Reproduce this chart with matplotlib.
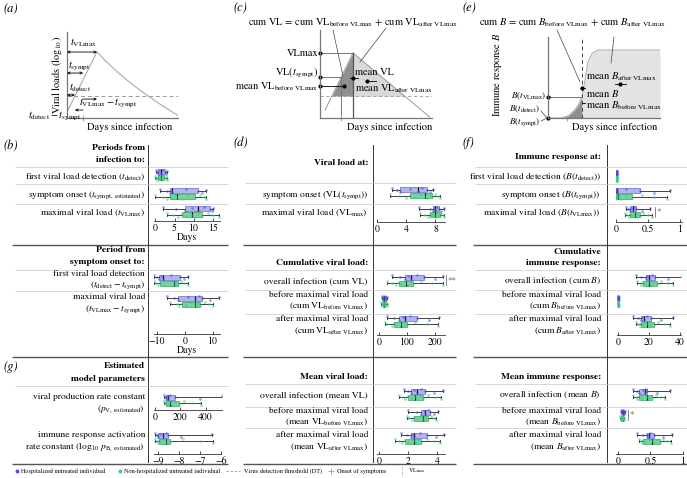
import numpy as np
import matplotlib
matplotlib.use('Agg')
import matplotlib.pyplot as plt

plt.rcParams['font.family'] = ['STIXGeneral', 'Liberation Serif', 'DejaVu Serif']
plt.rcParams['mathtext.fontset'] = 'stix'
plt.rcParams['font.size'] = 6.8

# ---------------- data ----------------
# periods from infection (days); H = hospitalized, N = non-hospitalized
t_detect_H = [0.2, 0.5, 0.8, 1.1, 1.5, 2.0, 2.5, 2.8, 3.0]
t_detect_N = [0.0, 0.3, 0.5, 0.7, 1.0, 1.2, 1.5, 1.8, 2.1, 2.4, 2.7, 3.0, 3.2]
t_sympt_H = [1.3, 3.0, 3.8, 4.1, 4.4, 8.0, 11.0, 12.0, 13.0]
t_sympt_N = [0.0, 2.0, 3.0, 3.8, 4.5, 5.0, 5.6, 7.0, 8.5, 10.3, 11.5, 12.5, 13.0]
t_vlmax_H = [2.0, 5.5, 7.7, 9.5, 11.0, 12.5, 14.1, 14.6, 14.9]
t_vlmax_N = [3.0, 4.5, 6.0, 7.0, 8.0, 9.0, 9.5, 10.2, 11.0, 12.0, 13.5, 15.0, 16.5]
# periods from symptom onset (days)
detect_sympt_H = [-11.0, -10.0, -9.3, -8.5, -7.9, -5.0, -1.8, -0.5, 1.0]
detect_sympt_N = [-11.0, -10.5, -9.8, -9.0, -7.5, -6.0, -4.0, -3.5, -3.0, -2.5, -1.5, -0.3, 1.0]
vlmax_sympt_H = [-6.5, -4.0, -2.5, 1.0, 3.6, 5.0, 6.0, 9.0, 12.0]
vlmax_sympt_N = [-5.4, -3.0, -2.0, -1.0, 0.5, 2.0, 3.6, 4.0, 4.8, 5.4, 7.0, 8.5, 10.0]
# estimated model parameters
p_v_H = [75, 85, 90, 98, 105, 120, 155, 355, 530]
p_v_N = [70, 78, 84, 90, 100, 110, 120, 135, 160, 190, 230, 290, 360]
log_p_b_H = [-9.15, -9.05, -9.0, -8.9, -8.75, -8.6, -8.5, -7.9, -6.45]
log_p_b_N = [-9.15, -9.05, -9.0, -8.95, -8.85, -8.7, -8.6, -8.55, -8.5, -8.45, -7.8, -7.0, -6.4]
# viral load at
vl_sympt_H = [2.0, 2.8, 3.2, 4.5, 5.6, 6.2, 6.8, 7.2, 7.6]
vl_sympt_N = [1.8, 3.0, 4.0, 4.5, 5.2, 6.0, 6.6, 6.9, 7.2, 7.5, 7.9, 8.3, 8.6]
vl_max_H = [5.8, 7.2, 7.6, 7.8, 8.0, 8.2, 8.5, 8.8, 9.1]
vl_max_N = [5.9, 6.5, 7.0, 7.3, 7.5, 7.7, 7.9, 8.1, 8.4, 8.6, 8.8, 9.0, 9.2]
# cumulative viral load
cum_vl_H = [45, 75, 92, 105, 115, 135, 160, 200, 230]
cum_vl_N = [30, 45, 60, 70, 80, 88, 95, 102, 110, 120, 150, 190, 230]
cum_vl_before_H = [10, 12, 14, 16, 18, 20, 24, 26, 28]
cum_vl_before_N = [8, 10, 12, 13, 14, 15, 17, 18, 20, 22, 25, 28, 30]
cum_vl_after_H = [28, 55, 72, 85, 93, 110, 136, 180, 215]
cum_vl_after_N = [20, 30, 45, 55, 62, 70, 80, 87, 94, 100, 130, 170, 212]
# mean viral load
mean_vl_H = [1.7, 2.0, 2.2, 2.4, 2.6, 2.9, 3.2, 3.8, 4.4]
mean_vl_N = [1.4, 1.6, 1.8, 2.0, 2.2, 2.35, 2.5, 2.65, 2.8, 3.0, 3.4, 3.9, 4.3]
mean_vl_before_H = [2.0, 2.6, 2.9, 3.1, 3.2, 3.35, 3.5, 3.8, 4.1]
mean_vl_before_N = [1.9, 2.1, 2.3, 2.4, 2.6, 2.8, 3.0, 3.1, 3.25, 3.4, 3.55, 3.7, 3.9]
mean_vl_after_H = [1.5, 1.9, 2.2, 2.3, 2.4, 2.8, 3.3, 3.9, 4.5]
mean_vl_after_N = [1.1, 1.4, 1.6, 1.8, 2.0, 2.2, 2.4, 2.55, 2.7, 2.9, 3.3, 3.8, 4.2]
# immune response at
b_detect_H = [0.0, 0.003, 0.005, 0.008, 0.01, 0.012, 0.015, 0.018, 0.02]
b_detect_N = [0.0, 0.002, 0.004, 0.005, 0.007, 0.009, 0.01, 0.011, 0.013, 0.015, 0.017, 0.019, 0.022]
b_sympt_H = [0.0, 0.002, 0.005, 0.01, 0.02, 0.15, 0.37, 0.6, 0.84]
b_sympt_N = [0.0, 0.001, 0.003, 0.005, 0.01, 0.02, 0.03, 0.08, 0.15, 0.25, 0.4, 0.6, 0.8]
b_vlmax_H = [0.15, 0.19, 0.22, 0.24, 0.26, 0.28, 0.31, 0.4, 0.53]
b_vlmax_N = [0.14, 0.17, 0.2, 0.22, 0.25, 0.28, 0.3, 0.32, 0.35, 0.37, 0.42, 0.5, 0.56]
# cumulative immune response
cum_b_H = [11.5, 15, 17.8, 19, 19.7, 22, 24, 32, 41]
cum_b_N = [12.5, 14, 15, 16, 17.5, 19, 20, 21.5, 23, 25, 28, 32, 35.5]
cum_b_before_H = [0.0, 0.05, 0.1, 0.15, 0.2, 0.25, 0.3, 0.4, 0.5]
cum_b_before_N = [0.0, 0.04, 0.08, 0.1, 0.14, 0.17, 0.2, 0.23, 0.27, 0.3, 0.35, 0.42, 0.5]
cum_b_after_H = [10, 13, 14.6, 15.5, 16.6, 18.5, 21, 28, 35.5]
cum_b_after_N = [11.5, 13, 14, 14.6, 16, 17.5, 19, 20, 21.5, 23, 26, 30, 33.5]
# mean immune response
mean_b_H = [0.23, 0.29, 0.33, 0.38, 0.41, 0.43, 0.45, 0.6, 0.8]
mean_b_N = [0.23, 0.27, 0.3, 0.33, 0.36, 0.4, 0.44, 0.47, 0.5, 0.53, 0.58, 0.65, 0.72]
mean_b_before_H = [0.04, 0.05, 0.06, 0.065, 0.07, 0.08, 0.09, 0.1, 0.11]
mean_b_before_N = [0.03, 0.04, 0.045, 0.05, 0.055, 0.06, 0.07, 0.072, 0.075, 0.08, 0.085, 0.09, 0.1]
mean_b_after_H = [0.3, 0.38, 0.44, 0.45, 0.47, 0.5, 0.56, 0.7, 0.83]
mean_b_after_N = [0.33, 0.35, 0.37, 0.38, 0.42, 0.47, 0.52, 0.56, 0.6, 0.64, 0.7, 0.76, 0.82]

# schematic curves (days, log10 VL / immune response)
sch_a_days = [0, 5.4, 7, 9, 11, 13, 15, 17, 20]
sch_a_vl = [0.7, 7.7, 6.6, 5.4, 4.3, 3.3, 2.4, 1.5, 0.3]
sch_a_dt = 2.56
sch_a_tdetect, sch_a_tsympt, sch_a_tvlmax = 1.43, 2.9, 5.4
sch_c_days = [0.9, 5.9, 19.6]
sch_c_vl = [0.9, 7.4, 0.1]
sch_c_dt = 2.5
sch_c_tsympt, sch_c_vlsympt = 3.8, 4.67
sch_c_mean, sch_c_mean_before, sch_c_mean_after = 4.5, 3.6, 4.2
sch_e_days = [0, 2.1, 3.6, 4.6, 5.4, 6.07, 6.6, 7.1, 7.9, 8.9, 20]
sch_e_b = [0, 0, 0.025, 0.086, 0.16, 0.26, 0.47, 0.69, 0.80, 0.84, 0.84]
sch_e_tvlmax, sch_e_tsympt = 6.07, 3.4
sch_e_mean, sch_e_mean_before, sch_e_mean_after = 0.37, 0.185, 0.42

# ---------------- layout helpers (pixels) ----------------
W, H = 687, 478
fig = plt.figure(figsize=(W / 100, H / 100), dpi=100)

def rect(x0, x1, y0, y1):
    return [x0 / W, 1 - y1 / H, (x1 - x0) / W, (y1 - y0) / H]

ax0 = fig.add_axes([0, 0, 1, 1])
ax0.set_xlim(0, W)
ax0.set_ylim(H, 0)
ax0.axis('off')
ax0.set_zorder(10)

blue = '#5050d8'
blue_box = '#a6a6ea'
green = '#3ad07f'
green_box = '#5ccf8a'

def txt(x, y, s, ha='right', **kw):
    ax0.text(x, y, s, ha=ha, va='center', **kw)

def hline(y, x0, x1, lw=0.5, color='#c8c8c8'):
    ax0.plot([x0, x1], [y, y], color=color, lw=lw, solid_capstyle='butt')

# ---------------- table grid ----------------
cols = [(12, 228, 148), (243, 456, 373), (473, 687, 607)]
for x0, x1, xv in cols:
    for y in (245, 357, 464):
        hline(y, x0, x1, lw=1.0, color='#555555')
    ax0.plot([xv, xv], [145, 462], color='#333333', lw=0.7)
for y in (167, 184, 204, 270, 291, 386):
    hline(y, 15, 228)
for y in (183, 204, 270, 290, 314, 384, 407, 428):
    hline(y, 245, 456)
for y in (167, 184, 204, 270, 290, 314, 384, 407, 428):
    hline(y, 475, 687)

# ---------------- row labels ----------------
bold = dict(fontweight='bold')
labels = [
    (145, 148, 'Periods from', bold), (145, 160, 'infection to:', bold),
    (145, 177, r'first viral load detection ($t_{\mathrm{detect}}$)', {}),
    (145, 195, r'symptom onset ($t_{\mathrm{sympt},\ \mathrm{estimated}}$)', {}),
    (145, 213, r'maximal viral load ($t_{\mathrm{VLmax}}$)', {}),
    (145, 250, 'Period from', bold), (145, 262, 'symptom onset to:', bold),
    (145, 274, 'first viral load detection', {}),
    (145, 285, r'($t_{\mathrm{detect}}-t_{\mathrm{sympt}}$)', {}),
    (145, 297, 'maximal viral load', {}),
    (145, 309, r'($t_{\mathrm{VLmax}}-t_{\mathrm{sympt}}$)', {}),
    (145, 366, 'Estimated', bold), (145, 379, 'model parameters', bold),
    (145, 397, 'viral production rate constant', {}),
    (145, 409, r'($p_{\mathrm{V},\ \mathrm{estimated}}$)', {}),
    (145, 435, 'immune response activation', {}),
    (145, 447, r'rate constant (log$_{10}\ p_{\mathrm{B},\ \mathrm{estimated}}$)', {}),
    (368, 163, 'Viral load at:', bold),
    (368, 195, r'symptom onset (VL($t_{\mathrm{sympt}}$))', {}),
    (368, 213, r'maximal viral load (VL$_{\mathrm{max}}$)', {}),
    (368, 263, 'Cumulative viral load:', bold),
    (368, 281, 'overall infection (cum VL)', {}),
    (368, 295, 'before maximal viral load', {}),
    (368, 306, r'(cum VL$_{\mathrm{before\ VLmax}}$)', {}),
    (368, 319, 'after maximal viral load', {}),
    (368, 331, r'(cum VL$_{\mathrm{after\ VLmax}}$)', {}),
    (368, 377, 'Mean viral load:', bold),
    (368, 395, 'overall infection (mean VL)', {}),
    (368, 411, 'before maximal viral load', {}),
    (368, 422, r'(mean VL$_{\mathrm{before\ VLmax}}$)', {}),
    (368, 435, 'after maximal viral load', {}),
    (368, 447, r'(mean VL$_{\mathrm{after\ VLmax}}$)', {}),
    (601, 157, 'Immune response at:', bold),
    (601, 177, r'first viral load detection ($B$($t_{\mathrm{detect}}$))', {}),
    (601, 195, r'symptom onset ($B$($t_{\mathrm{sympt}}$))', {}),
    (601, 213, r'maximal viral load ($B$($t_{\mathrm{VLmax}}$))', {}),
    (601, 252, 'Cumulative', bold), (601, 263, 'immune response:', bold),
    (601, 281, r'overall infection (cum $B$)', {}),
    (601, 295, 'before maximal viral load', {}),
    (601, 306, r'(cum $B_{\mathrm{before\ VLmax}}$)', {}),
    (601, 319, 'after maximal viral load', {}),
    (601, 331, r'(cum $B_{\mathrm{after\ VLmax}}$)', {}),
    (601, 377, 'Mean immune response:', bold),
    (601, 395, r'overall infection (mean $B$)', {}),
    (601, 411, 'before maximal viral load', {}),
    (601, 422, r'(mean $B_{\mathrm{before\ VLmax}}$)', {}),
    (601, 435, 'after maximal viral load', {}),
    (601, 447, r'(mean $B_{\mathrm{after\ VLmax}}$)', {}),
]
for x, y, s, kw in labels:
    txt(x, y, s, **kw)

# ---------------- box + strip blocks ----------------
blocks = [
    dict(px=(154, 220, 167, 221), xlim=(-0.26, 16.67), ticks=[0, 5, 10, 15], xlabel='Days',
         rows=[(175, t_detect_H, t_detect_N, ''), (194, t_sympt_H, t_sympt_N, ''),
               (212, t_vlmax_H, t_vlmax_N, '')]),
    dict(px=(154, 220, 270, 334), xlim=(-11.07, 12.5), ticks=[-10, 0, 10], xlabel='Days',
         rows=[(280, detect_sympt_H, detect_sympt_N, ''), (301, vlmax_sympt_H, vlmax_sympt_N, '')]),
    dict(px=(154, 222, 386, 410), xlim=(-8, 530), ticks=[0, 200, 400], xlabel='',
         rows=[(400, p_v_H, p_v_N, '')]),
    dict(px=(154, 221, 420, 454), xlim=(-9.19, -6), ticks=[-9, -8, -7, -6], xlabel='',
         rows=[(438, log_p_b_H, log_p_b_N, '')]),
    dict(px=(377, 445, 183, 222), xlim=(0, 9.3), ticks=[0, 4, 8], xlabel='',
         rows=[(193, vl_sympt_H, vl_sympt_N, ''), (212, vl_max_H, vl_max_N, '')]),
    dict(px=(377, 445, 270, 335), xlim=(-7, 236), ticks=[0, 100, 200], xlabel='',
         rows=[(280, cum_vl_H, cum_vl_N, '**'), (301, cum_vl_before_H, cum_vl_before_N, ''),
               (321, cum_vl_after_H, cum_vl_after_N, '')]),
    dict(px=(377, 445, 384, 454), xlim=(-0.14, 4.55), ticks=[0, 2, 4], xlabel='',
         rows=[(394, mean_vl_H, mean_vl_N, ''), (415, mean_vl_before_H, mean_vl_before_N, ''),
               (438, mean_vl_after_H, mean_vl_after_N, '')]),
    dict(px=(616, 682, 167, 222), xlim=(0, 1.03), ticks=[0, 0.5, 1], xlabel='',
         rows=[(176, b_detect_H, b_detect_N, ''), (194, b_sympt_H, b_sympt_N, ''),
               (212, b_vlmax_H, b_vlmax_N, '*')]),
    dict(px=(617, 681, 270, 335), xlim=(-0.6, 40.6), ticks=[0, 20, 40], xlabel='',
         rows=[(280, cum_b_H, cum_b_N, ''), (301, cum_b_before_H, cum_b_before_N, ''),
               (321, cum_b_after_H, cum_b_after_N, '')]),
    dict(px=(616, 683, 384, 454), xlim=(-0.03, 1.0), ticks=[0, 0.5, 1], xlabel='',
         rows=[(394, mean_b_H, mean_b_N, ''), (415, mean_b_before_H, mean_b_before_N, '*'),
               (438, mean_b_after_H, mean_b_after_N, '')]),
]

def draw_group(ax, vals, y, face, edge, pcol):
    ax.boxplot(vals, positions=[y], orientation='horizontal', widths=5, whis=(0, 100),
               patch_artist=True, showfliers=False, manage_ticks=False,
               boxprops=dict(facecolor=face, edgecolor=edge, lw=0.5, alpha=0.85),
               medianprops=dict(color='black', lw=0.8),
               whiskerprops=dict(color='#222222', lw=0.6),
               capprops=dict(color='#222222', lw=0.6))
    jit = [((i * 7) % 5 - 2) * 1.1 for i in range(len(vals))]
    ax.scatter(vals, np.array(jit) + y, s=4, color=pcol, alpha=0.55, lw=0, zorder=3)

for b in blocks:
    x0, x1, y0, y1 = b['px']
    ax = fig.add_axes(rect(x0, x1, y0, y1))
    ax.set_facecolor('none')
    ax.set_xlim(*b['xlim'])
    ax.set_ylim(y1, y0)
    for s in ('left', 'right', 'top'):
        ax.spines[s].set_visible(False)
    ax.spines['bottom'].set_linewidth(0.6)
    ax.spines['bottom'].set_color('#333333')
    ax.set_yticks([])
    ax.set_xticks(b['ticks'])
    ax.set_xticklabels([('%g' % t).replace('-', '\u2212') for t in b['ticks']])
    ax.tick_params(axis='x', direction='in', length=2, width=0.5, pad=1.5, labelsize=7)
    if b['xlabel']:
        ax.set_xlabel(b['xlabel'], labelpad=0, fontsize=7)
    px_per_unit = (x1 - x0) / (b['xlim'][1] - b['xlim'][0])
    for y, hv, nv, stars in b['rows']:
        draw_group(ax, hv, y - 3, blue_box, '#5555cc', blue)
        draw_group(ax, nv, y + 3, green_box, '#2f8f55', green)
        if stars:
            xb = max(max(hv), max(nv)) + 3 / px_per_unit
            ax.plot([xb, xb], [y - 5, y + 5], color='#555555', lw=0.5, clip_on=False)
            ax.text(xb + 1.5 / px_per_unit, y, stars, ha='left', va='center', fontsize=6.5,
                    color='#555555', clip_on=False)

# ---------------- schematic (a) ----------------
def sch_axes(x0, x1, y0, y1, ylim):
    a = fig.add_axes(rect(x0, x1, y0, y1))
    a.set_facecolor('none')
    a.set_xlim(0, 20)
    a.set_ylim(*ylim)
    for s in ('right', 'top'):
        a.spines[s].set_visible(False)
    for s in ('left', 'bottom'):
        a.spines[s].set_color('#777777')
        a.spines[s].set_linewidth(0.9)
    a.set_xticks([])
    a.set_yticks([])
    return a

arr = dict(arrowstyle='<->', lw=0.6, color='black', mutation_scale=4, shrinkA=0, shrinkB=0)
aa = sch_axes(67, 178, 32, 118, (0, 10))
aa.plot(sch_a_days, sch_a_vl, color='#aaaaaa', lw=0.8)
aa.axhline(sch_a_dt, color='#999999', lw=0.7, ls=(0, (4, 3)))
aa.annotate('', xy=(sch_a_tvlmax, 7.67), xytext=(0, 7.67), arrowprops=arr)
aa.annotate('', xy=(sch_a_tsympt, 5.23), xytext=(0, 5.23), arrowprops=arr)
aa.annotate('', xy=(sch_a_tdetect, 2.67), xytext=(0, 2.67), arrowprops=arr)
aa.annotate('', xy=(sch_a_tvlmax, 2.2), xytext=(sch_a_tsympt, 2.2),
            arrowprops=dict(arr, arrowstyle='->'))
aa.annotate('', xy=(sch_a_tdetect, 0.93), xytext=(sch_a_tsympt, 0.93),
            arrowprops=dict(arr, arrowstyle='->'))
aa.plot(sch_a_tsympt, 0, '+', color='#aaaaaa', ms=4, mew=0.8, clip_on=False)

st = dict(fontsize=7.5)
txt(70, 43, r'$t_{\mathrm{VLmax}}$', ha='left', **st)
txt(68, 66, r'$t_{\mathrm{sympt}}$', ha='left', **st)
txt(69, 88, r'$t_{\mathrm{detect}}$', ha='left', **st)
txt(79, 103, r'$t_{\mathrm{VLmax}}-t_{\mathrm{sympt}}$', ha='left', **st)
txt(82, 116, r'$t_{\mathrm{detect}}-t_{\mathrm{sympt}}$', ha='right', **st)
ax0.text(57, 75, r'Viral loads (log$_{10}$)', rotation=90, ha='center', va='center', fontsize=7.5)
txt(130, 127, 'Days since infection', ha='center', fontsize=7.5)

# ---------------- schematic (c) ----------------
ac = sch_axes(320, 432, 30, 118, (0, 10))
ac.plot(sch_c_days, sch_c_vl, color='#999999', lw=0.7)
grid = np.linspace(0, 20, 400)
vl_c = np.interp(grid, sch_c_days, sch_c_vl, left=np.nan, right=np.nan)
pk = sch_c_days[1]
ac.fill_between(grid, sch_c_dt, vl_c, where=(grid <= pk) & (vl_c > sch_c_dt), color='#8f8f8f', lw=0)
ac.fill_between(grid, sch_c_dt, vl_c, where=(grid >= pk) & (vl_c > sch_c_dt), color='#d9d9d9', lw=0)
ac.axhline(sch_c_dt, color='#999999', lw=0.6, ls=(0, (4, 3)))
vlmax_c = sch_c_vl[1]
ac.plot([0, pk], [vlmax_c, vlmax_c], color='#777777', lw=0.7)
ac.plot([pk, pk], [0, vlmax_c], color='#555555', lw=0.9)
ac.plot([0, sch_c_tsympt], [sch_c_vlsympt, sch_c_vlsympt], color='#777777', lw=0.7)
ac.plot([sch_c_tsympt, sch_c_tsympt], [0, sch_c_vlsympt], color='#777777', lw=0.7)
ac.plot([0, 4.3], [sch_c_mean_before, sch_c_mean_before], color='black', lw=0.6)
ac.plot([0, 0, 0], [vlmax_c, sch_c_vlsympt, sch_c_mean_before], 'o', color='black', ms=2, clip_on=False)
ac.plot(4.3, sch_c_mean_before, 'o', color='black', ms=2)
ac.plot(pk, sch_c_mean, 'o', color='black', ms=2)
ac.plot([pk - 0.5, pk + 0.8], [sch_c_mean, sch_c_mean], color='black', lw=0.6)
ac.plot(8.4, sch_c_mean_after, 'o', color='black', ms=2)
ac.plot([8.4, 10.0], [sch_c_mean_after, sch_c_mean_after], color='black', lw=0.6)
ac.plot(sch_c_tsympt, 0, '+', color='#aaaaaa', ms=4, mew=0.8, clip_on=False)

txt(353, 23, r'cum VL = cum VL$_{\mathrm{before\ VLmax}}$ + cum VL$_{\mathrm{after\ VLmax}}$', ha='center', **st)
ax0.plot([333, 343], [30, 76], color='#444444', lw=0.5)
ax0.plot([386, 360], [28, 62], color='#444444', lw=0.5)
txt(318, 53, 'VLmax', **st)
txt(318, 73, r'VL($t_{\mathrm{sympt}}$)', **st)
txt(318, 87, r'mean VL$_{\mathrm{before\ VLmax}}$', **st)
txt(355, 72, 'mean VL', ha='left', **st)
txt(355, 89, r'mean VL$_{\mathrm{after\ VLmax}}$', ha='left', **st)
txt(390, 127, 'Days since infection', ha='center', fontsize=7.5)

# ---------------- schematic (e) ----------------
ae = sch_axes(548, 660, 37, 118, (0, 1))
grid_e = np.linspace(0, 20, 400)
b_e = np.interp(grid_e, sch_e_days, sch_e_b)
ae.fill_between(grid_e, 0, b_e, where=grid_e <= sch_e_tvlmax, color='#8f8f8f', lw=0)
ae.fill_between(grid_e, 0, b_e, where=grid_e >= sch_e_tvlmax, color='#e3e3e3', lw=0)
ae.plot(sch_e_days, sch_e_b, color='#aaaaaa', lw=0.7)
ae.plot([20, 20], [0, sch_e_b[-1]], color='#bbbbbb', lw=0.7)
ae.axvline(sch_e_tvlmax, color='#444444', lw=0.7, ls=(0, (4, 3)))
b_tv = np.interp(sch_e_tvlmax, sch_e_days, sch_e_b)
ae.plot([0, sch_e_tvlmax], [b_tv, b_tv], color='#777777', lw=0.7)
ae.plot([0, sch_e_tvlmax], [0, 0], color='#777777', lw=0.7)
ae.plot([0, 0], [b_tv, 0], 'o', color='black', ms=2, clip_on=False)
ae.plot(sch_e_tvlmax, sch_e_mean, 'o', color='black', ms=2)
ae.plot([sch_e_tvlmax - 0.4, sch_e_tvlmax + 0.6], [sch_e_mean, sch_e_mean], color='black', lw=0.6)
ae.plot([sch_e_tvlmax, sch_e_tvlmax + 0.6], [sch_e_mean_before, sch_e_mean_before], color='black', lw=0.6)
ae.plot(12.9, sch_e_mean_after, 'o', color='black', ms=2)
ae.plot([12.0, 14.0], [sch_e_mean_after, sch_e_mean_after], color='black', lw=0.6)
ae.plot(sch_e_tsympt, 0, '+', color='#aaaaaa', ms=4, mew=0.8, clip_on=False)

txt(573, 23, r'cum $B$ = cum $B_{\mathrm{before\ VLmax}}$ + cum $B_{\mathrm{after\ VLmax}}$', ha='center', **st)
ax0.plot([557, 580], [30, 82], color='#444444', lw=0.5)
ax0.plot([614, 611], [37, 63], color='#444444', lw=0.5)
se = dict(fontsize=6.5)
txt(546, 96, r'$B$($t_{\mathrm{VLmax}}$)', **se)
txt(540, 109, r'$B$($t_{\mathrm{detect}}$)', **se)
txt(540, 122, r'$B$($t_{\mathrm{sympt}}$)', **se)
ax0.plot([541, 547, 541], [111, 118, 121], color='#444444', lw=0.5)
txt(586, 77, r'mean $B_{\mathrm{after\ VLmax}}$', ha='left', **st)
txt(586, 93, r'mean $B$', ha='left', **st)
txt(586, 106, r'mean $B_{\mathrm{before\ VLmax}}$', ha='left', **st)
ax0.text(497, 75, r'Immune response $B$', rotation=90, ha='center', va='center', fontsize=7.5)
txt(615, 127, 'Days since infection', ha='center', fontsize=7.5)

# ---------------- panel letters ----------------
for x, y, s in [(3, 8, '(a)'), (233, 7, '(c)'), (462, 7, '(e)'), (3, 146, '(b)'),
                (233, 143, '(d)'), (462, 143, '(f)'), (3, 367, '(g)')]:
    ax0.text(x, y, s, ha='left', va='center', fontsize=9, style='italic')

# ---------------- legend ----------------
ly = 471
lf = dict(fontsize=4.5)
ax0.plot(17, ly, 'o', color=blue, ms=1.8)
txt(21, ly, 'Hospitalized untreated individual', ha='left', **lf)
ax0.plot(120, ly, 'o', color=green, ms=1.8)
txt(124, ly, 'Non-hospitalized untreated individual', ha='left', **lf)
ax0.plot([226, 240], [ly, ly], color='#999999', lw=0.6, ls=(0, (3, 2)))
txt(244, ly, 'Virus detection threshold (DT)', ha='left', **lf)
ax0.plot(331, ly, '+', color='#aaaaaa', ms=4, mew=0.7)
txt(337, ly, 'Onset of symptoms', ha='left', **lf)
ax0.plot([402, 402], [ly - 4, ly + 4], color='#777777', lw=0.6, ls=':')
txt(408, ly, r'VL$_{\mathrm{max}}$', ha='left', **lf)

fig.savefig('out.png', dpi=100)
